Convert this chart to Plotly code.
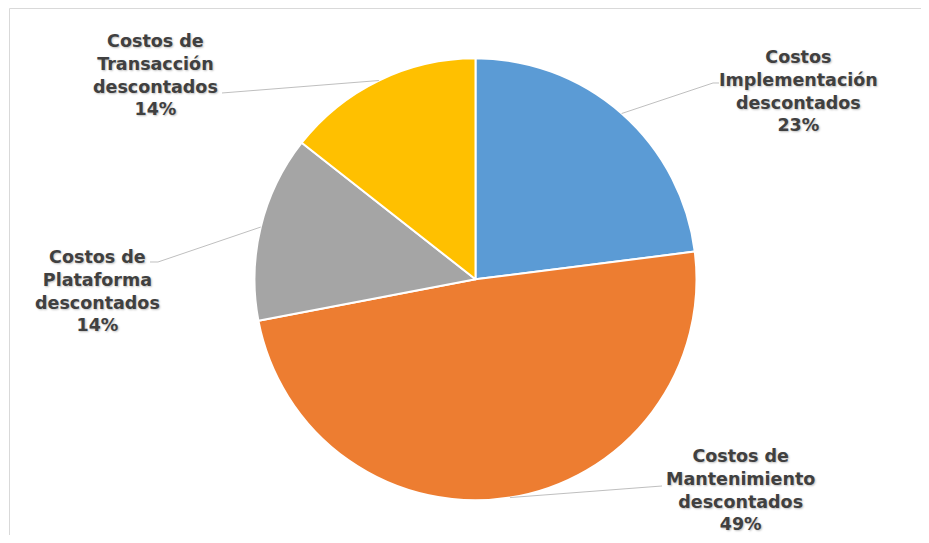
import math
import plotly.graph_objects as go

# ---- data ----
categories = [
    "Costos<br>Implementación<br>descontados",
    "Costos de<br>Mantenimiento<br>descontados",
    "Costos de<br>Plataforma<br>descontados",
    "Costos de<br>Transacción<br>descontados",
]
values = [23.0, 49.0, 13.6, 14.4]
colors = ["#5B9BD5", "#ED7D31", "#A5A5A5", "#FFC000"]

# ---- layout constants (pixels in the screenshot) ----
OFF = 8  # page body margin
W, H = 929 - 2 * OFF, 543 - 2 * OFF
CX, CY, R = 475.5, 279.3, 221.0
# label block centers and leader-line end points (text side)
label_pos = [(798, 91), (740, 490), (97, 291), (155, 75)]
leader_end = [[(713, 83), (719, 83)], [(662, 486)], [(158, 262), (150, 262)], [(222, 93)]]


def px(x):
    return (x - OFF) / W


def py(y):
    return 1 - (y - OFF) / H


fig = go.Figure(
    go.Pie(
        labels=[c.replace("<br>", " ") for c in categories],
        values=values,
        marker=dict(colors=colors, line=dict(color="white", width=2)),
        sort=False,
        direction="clockwise",
        rotation=0,
        textinfo="none",
        hoverinfo="label+percent",
        domain=dict(x=[px(CX - R), px(CX + R)], y=[py(CY + R), py(CY - R)]),
    )
)

total = sum(values)
shapes = []
annotations = []
cum = 0.0
for i, v in enumerate(values):
    mid = (cum + v / 2) / total * 2 * math.pi
    cum += v
    ax_ = CX + R * math.sin(mid)
    ay_ = CY - R * math.cos(mid)
    pts = [(ax_, ay_)] + leader_end[i]
    path = "M " + " L ".join(f"{px(x):.5f},{py(y):.5f}" for x, y in pts)
    shapes.append(dict(type="path", xref="paper", yref="paper", path=path,
                       line=dict(color="#BFBFBF", width=1)))
    pct = round(v / total * 100)
    lx, ly = label_pos[i]
    annotations.append(dict(
        x=px(lx), y=py(ly), xref="paper", yref="paper",
        xanchor="center", yanchor="middle", showarrow=False,
        text=f"<b>{categories[i]}<br>{pct}%</b>", align="center",
        font=dict(family="DejaVu Sans", size=17.5, color="#404040",
                  shadow="1px 1px 2px rgba(0,0,0,0.25)"),
    ))

# chart border
shapes.append(dict(type="rect", xref="paper", yref="paper",
                   x0=px(9.5), x1=1.05, y0=-0.05, y1=py(8.5),
                   line=dict(color="#D9D9D9", width=1), layer="below"))

fig.update_layout(
    width=W, height=H,
    margin=dict(l=0, r=0, t=0, b=0),
    paper_bgcolor="white", plot_bgcolor="white",
    showlegend=False,
    shapes=shapes, annotations=annotations,
)

fig.write_html("out.html")
